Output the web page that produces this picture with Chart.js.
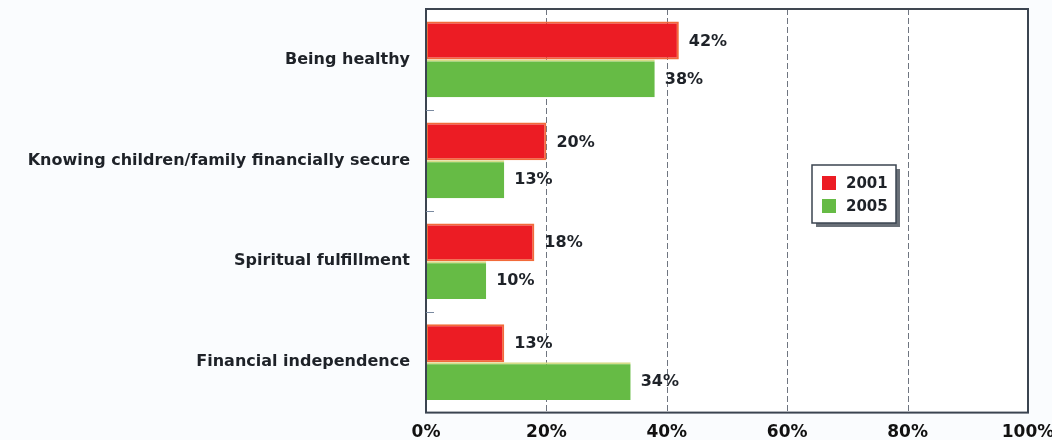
<!DOCTYPE html>
<html>
<head>
<meta charset="utf-8">
<script src="https://cdn.jsdelivr.net/npm/chart.js@4.4.0/dist/chart.umd.min.js"></script>
<style>
  html, body { margin: 0; padding: 0; background: #fafcfe; }
  #wrap { width: 1052px; height: 440px; }
</style>
</head>
<body>
<div id="wrap"><canvas id="chart" width="1052" height="440"></canvas></div>
<script>
const categories = ['Being healthy', 'Knowing children/family financially secure', 'Spiritual fulfillment', 'Financial independence'];
const values2001 = [42, 20, 18, 13];
const values2005 = [38, 13, 10, 34];
const seriesNames = ['2001', '2005'];
const xTicks = [0, 20, 40, 60, 80, 100];

const FONT = '"DejaVu Sans", Verdana, sans-serif';

// value labels at the end of each bar
const barLabels = {
    id: 'barLabels',
    afterDatasetsDraw(chart) {
        const ctx = chart.ctx;
        ctx.save();
        ctx.font = 'bold 16px ' + FONT;
        ctx.fillStyle = '#1e2228';
        ctx.textBaseline = 'middle';
        chart.data.datasets.forEach((ds, i) => {
            chart.getDatasetMeta(i).data.forEach((bar, j) => {
                ctx.fillText(ds.data[j] + '%', bar.x + 10, bar.y + 1);
            });
        });
        ctx.restore();
    }
};

// frame, category separators and the legend box
const frame = {
    id: 'frame',
    beforeDatasetsDraw(chart) {
        const a = chart.chartArea;
        const ctx = chart.ctx;
        ctx.save();
        ctx.fillStyle = '#ffffff';
        ctx.fillRect(a.left, a.top, a.right - a.left, a.bottom - a.top);
        const x = chart.scales.x;
        ctx.strokeStyle = '#6f7580';
        ctx.lineWidth = 1;
        ctx.setLineDash([6, 3]);
        xTicks.slice(1, -1).forEach(t => {
            const px = Math.round(x.getPixelForValue(t)) + 0.5;
            ctx.beginPath();
            ctx.moveTo(px, a.top);
            ctx.lineTo(px, a.bottom);
            ctx.stroke();
        });
        ctx.restore();
    },
    afterDraw(chart) {
        const a = chart.chartArea;
        const ctx = chart.ctx;
        const y = chart.scales.y;
        ctx.save();
        ctx.strokeStyle = '#3b4450';
        ctx.lineWidth = 2;
        ctx.strokeRect(a.left, a.top, a.right - a.left, a.bottom - a.top);
        ctx.lineWidth = 1;
        ctx.strokeStyle = '#7a8aa0';
        for (let i = 0; i < categories.length - 1; i++) {
            const py = Math.round((y.getPixelForValue(i) + y.getPixelForValue(i + 1)) / 2) + 0.5;
            ctx.beginPath();
            ctx.moveTo(a.left, py);
            ctx.lineTo(a.left + 8, py);
            ctx.stroke();
        }

        // legend
        const lx = 812, ly = 165, lw = 84, lh = 58;
        ctx.fillStyle = '#6a7078';
        ctx.fillRect(lx + 4, ly + 4, lw, lh);
        ctx.fillStyle = '#ffffff';
        ctx.fillRect(lx, ly, lw, lh);
        ctx.strokeStyle = '#3b4450';
        ctx.lineWidth = 1.5;
        ctx.strokeRect(lx, ly, lw, lh);
        ctx.font = 'bold 15px ' + FONT;
        ctx.textBaseline = 'middle';
        chart.data.datasets.forEach((ds, i) => {
            const ry = ly + 18 + i * 23;
            ctx.fillStyle = ds.backgroundColor;
            ctx.fillRect(lx + 10, ry - 7, 14, 14);
            ctx.fillStyle = '#1e2228';
            ctx.fillText(ds.label, lx + 34, ry + 1);
        });
        ctx.restore();
    }
};

new Chart(document.getElementById('chart'), {
    type: 'bar',
    data: {
        labels: categories,
        datasets: [
            {
                label: seriesNames[0],
                data: values2001,
                backgroundColor: '#ec1c24',
                borderColor: '#f26a3a',
                borderWidth: 2,
                borderSkipped: false
            },
            {
                label: seriesNames[1],
                data: values2005,
                backgroundColor: '#66bb45',
                borderColor: '#d6dc88',
                borderWidth: { top: 2, right: 0, bottom: 0, left: 0 },
                borderSkipped: false
            }
        ]
    },
    options: {
        indexAxis: 'y',
        responsive: false,
        animation: false,
        categoryPercentage: 0.75,
        barPercentage: 1.0,
        layout: { padding: { top: 9, right: 24, bottom: -13, left: 0 } },
        plugins: {
            legend: { display: false },
            tooltip: { enabled: false }
        },
        scales: {
            x: {
                min: 0,
                max: 100,
                afterBuildTicks(scale) {
                    scale.ticks = xTicks.map(v => ({ value: v }));
                },
                afterFit(scale) {
                    scale.paddingRight = 0;
                    scale.paddingLeft = 0;
                },
                grid: { display: false, drawTicks: false },
                border: { display: false },
                ticks: {
                    padding: 10,
                    color: '#111',
                    font: { family: FONT, size: 17, weight: 'bold' },
                    callback: v => v + '%',
                    maxRotation: 0,
                    autoSkip: false
                }
            },
            y: {
                grid: { display: false, drawTicks: false },
                border: { display: false },
                afterFit(scale) {
                    scale.width = 426;
                    scale.paddingTop = 0;
                    scale.paddingBottom = 0;
                },
                ticks: {
                    padding: 16,
                    color: '#1e2228',
                    font: { family: FONT, size: 16, weight: 'bold' }
                }
            }
        }
    },
    plugins: [frame, barLabels]
});
</script>
</body>
</html>
